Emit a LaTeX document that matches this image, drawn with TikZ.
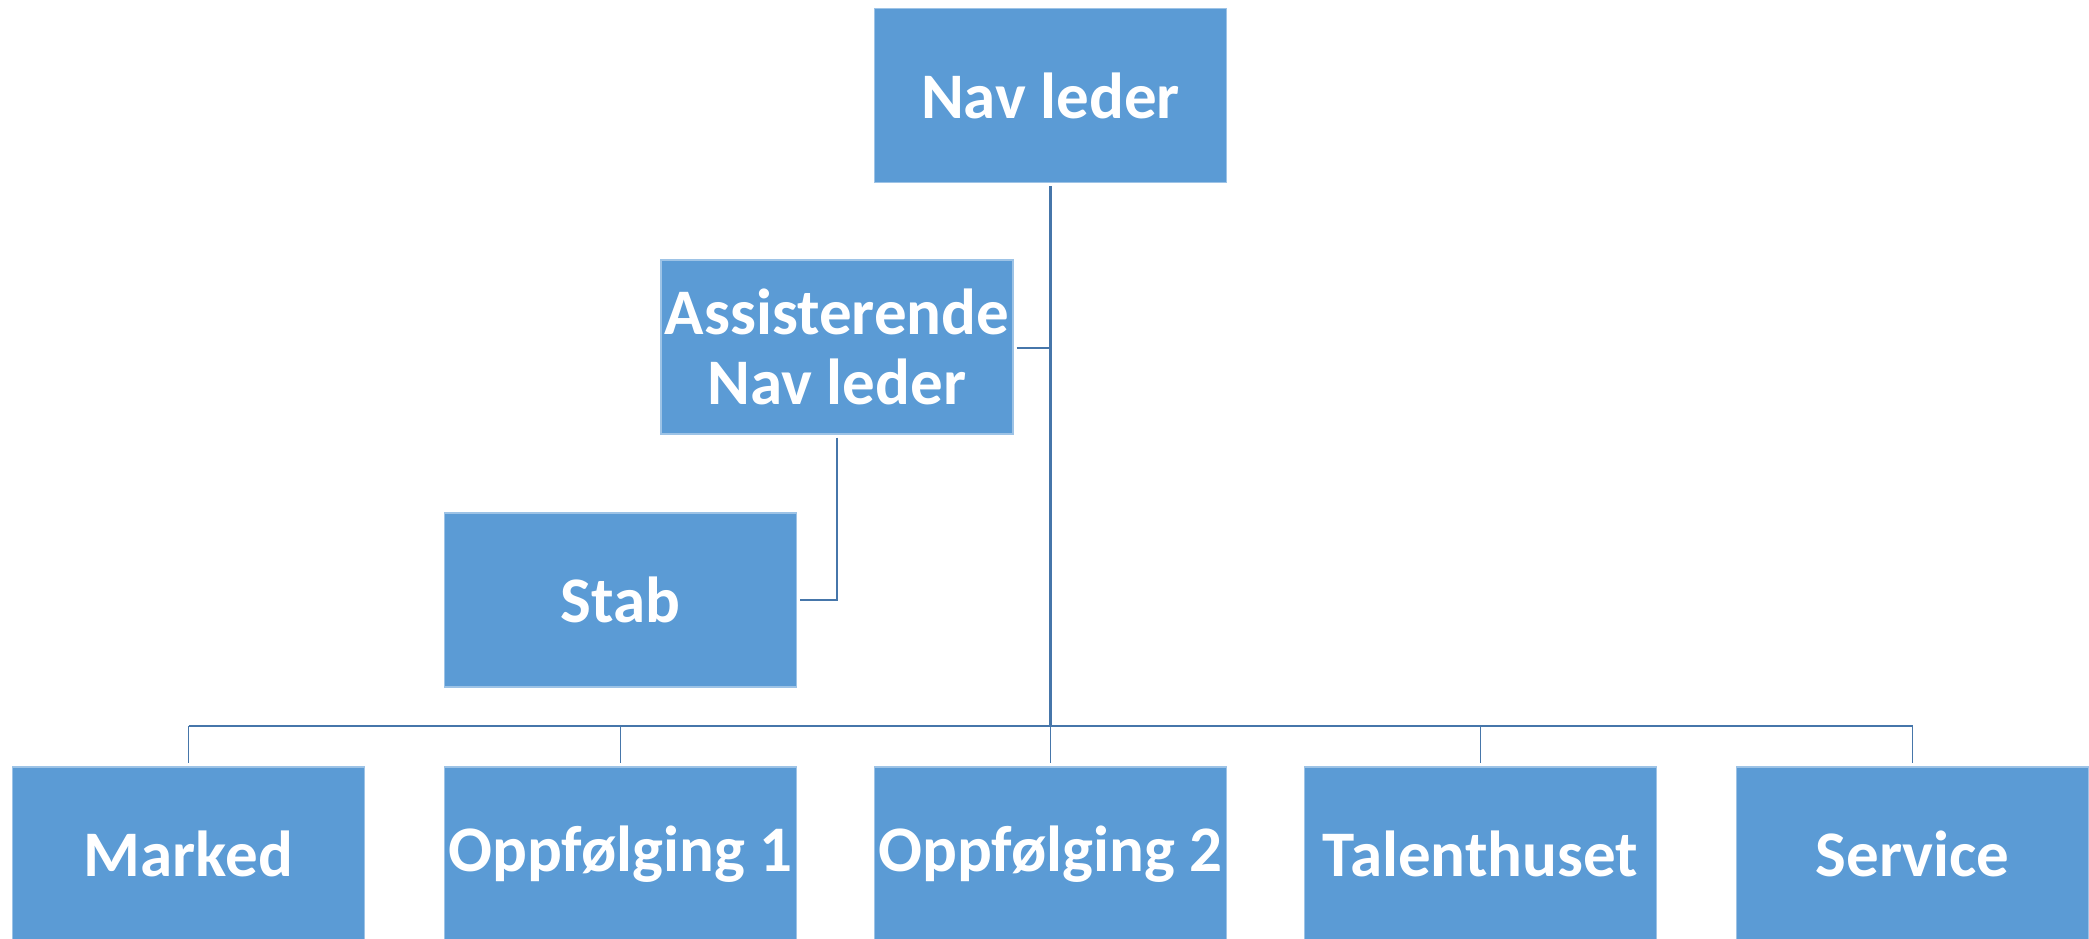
\documentclass[tikz,border=0pt]{standalone}
\usepackage{fontspec}
\setmainfont{Carlito}
\usepackage{xcolor}
\definecolor{boxblue}{RGB}{91,155,213}
\definecolor{lineblue}{RGB}{70,118,170}
\usepackage{tikz}
\usetikzlibrary{positioning}
\usetikzlibrary{calc}

\begin{document}
\begin{tikzpicture}
	\useasboundingbox (0,0) rectangle (20.89,-9.39);
	\begin{scope}[every node/.style={fill=boxblue,draw=boxblue!60!white,line width=0.3pt,text=white,
	              minimum width=3.52cm,minimum height=1.74cm,align=center,inner sep=0pt,
	              font=\bfseries\fontsize{18.5}{20}\selectfont}]
	    \node (nav) at (10.505,-0.955) {Nav leder};
	    \node (asst) at (8.37,-3.47) {Assisterende\\Nav leder};
	    \node (stab) at (6.205,-6.00) {Stab};
	    \node (marked) at (1.885,-8.54) {Marked};
	    \node (opp1) at (6.205,-8.54) {Oppfølging 1};
	    \node (opp2) at (10.505,-8.54) {Oppfølging 2};
	    \node (talent) at (14.805,-8.54) {Talenthuset};
	    \node (service) at (19.125,-8.54) {Service};
	\end{scope}

	\coordinate (bus) at (0,-7.26);

	\begin{scope}[draw=lineblue,line width=0.55pt]
	    \draw[line width=1.1pt] (nav.south) ++(0,-0.03) -- (nav.south |- bus);
	    \draw ($(asst.east)+(0.03,-0.01)$) -- ($(nav.south |- asst.east)+(0,-0.01)$);
	    \draw ($(asst.south)+(0,-0.03)$) |- ($(stab.east)+(0.03,0)$);
	    \draw (marked.north |- bus) -- (service.north |- bus);
	    \foreach \n in {marked,opp1,opp2,talent,service}
	        \draw (\n.north |- bus) -- ($(\n.north)+(0,0.03)$);
	\end{scope}
\end{tikzpicture}
\end{document}
